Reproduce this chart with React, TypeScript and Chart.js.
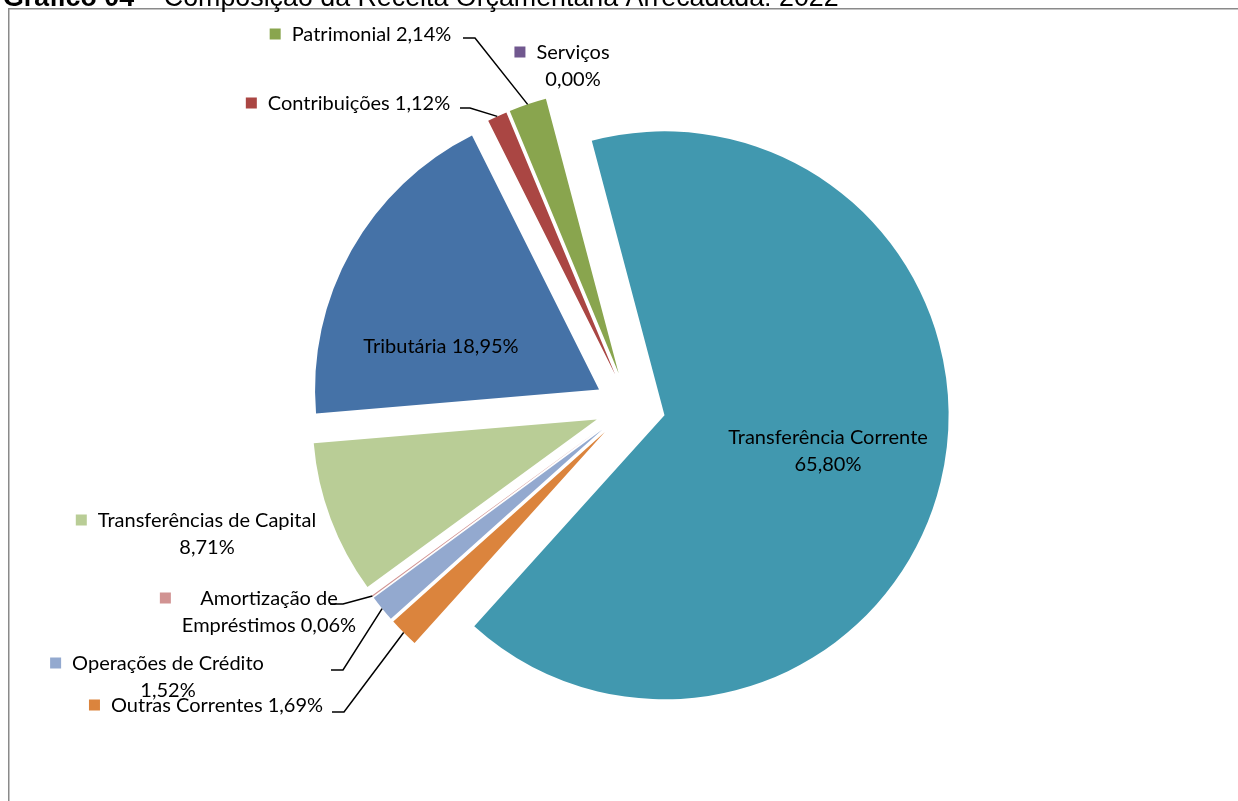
import React, { useEffect, useRef } from "react";
import { Chart, registerables } from "chart.js";

Chart.register(...registerables);

// ---- data ----
const categories = [
  "Tributária",
  "Contribuições",
  "Patrimonial",
  "Serviços",
  "Transferência Corrente",
  "Outras Correntes",
  "Operações de Crédito",
  "Amortização de Empréstimos",
  "Transferências de Capital",
];
const shares = [18.95, 1.12, 2.14, 0.0, 65.8, 1.69, 1.52, 0.06, 8.71];
const titleBold = "Gráfico 04";
const titleRest = " – Composição da Receita Orçamentária Arrecadada: 2022";

// ---- styles ----
const sliceColors = [
  "#4572A7",
  "#AA4643",
  "#89A54E",
  "#71588F",
  "#4198AF",
  "#DB843D",
  "#93A9CF",
  "#D19392",
  "#B9CD96",
];
const EXPLODE = 35.5;
const RADIUS = 284;
const ROTATION = 265.2;
const LABEL_FONT = '20px Lato, "Noto Sans", sans-serif';
const LINE_H = 26.5;
const KEY = 11;
const KEY_GAP = 11;

// label layout: centre x of text block, centre y of first line, words before line break (0 = none)
const labelLayout: any[] = [
  { cx: 441, cy: 347, key: false, brk: 0 },
  { cx: 359, cy: 104, key: true, brk: 0, leader: [[460, 108], [470, 108]] },
  { cx: 371.5, cy: 35, key: true, brk: 0, leader: [[463, 38], [475, 38]] },
  { cx: 573, cy: 53, key: true, brk: 1 },
  { cx: 828, cy: 438, key: false, brk: 2 },
  { cx: 217, cy: 706, key: true, brk: 0, leader: [[332, 712], [344, 712]] },
  { cx: 168, cy: 664, key: true, brk: 3, leader: [[331, 670], [343, 670]] },
  { cx: 269, cy: 599, key: true, brk: 2, leader: [[330, 604], [343, 604]] },
  { cx: 207, cy: 521, key: true, brk: 3 },
];

const fmtPct = (v: number) => v.toFixed(2).replace(".", ",") + "%";

function labelLines(i: number): string[] {
  const words = (categories[i] + " " + fmtPct(shares[i])).split(" ");
  const brk = labelLayout[i].brk;
  if (!brk) return [words.join(" ")];
  return [words.slice(0, brk).join(" "), words.slice(brk).join(" ")];
}

const decorPlugin = {
  id: "decor",
  beforeDraw(chart: any) {
    const ctx = chart.ctx as CanvasRenderingContext2D;
    ctx.save();
    ctx.fillStyle = "#fff";
    ctx.fillRect(0, 0, chart.width, chart.height);
    // frame
    ctx.strokeStyle = "#8a8a8a";
    ctx.lineWidth = 1.5;
    ctx.beginPath();
    ctx.moveTo(8.75, chart.height + 2);
    ctx.lineTo(8.75, 8.75);
    ctx.lineTo(chart.width + 2, 8.75);
    ctx.stroke();
    // title (cropped at the top, as in the source)
    ctx.fillStyle = "#000";
    ctx.textBaseline = "alphabetic";
    ctx.textAlign = "left";
    ctx.font = 'bold 26.8px "Liberation Sans", Arial, sans-serif';
    ctx.fillText(titleBold, 3, 5.5);
    const w = ctx.measureText(titleBold).width;
    ctx.font = '26.8px "Liberation Sans", Arial, sans-serif';
    ctx.fillText(titleRest, 3 + w, 5.5);
    ctx.restore();
  },
  beforeDatasetDraw(chart: any, args: any) {
    const ctx = chart.ctx as CanvasRenderingContext2D;
    args.meta.data.forEach((arc: any) => {
      const mid = (arc.startAngle + arc.endAngle) / 2;
      ctx.save();
      ctx.translate(Math.cos(mid) * EXPLODE, Math.sin(mid) * EXPLODE);
      arc.draw(ctx, chart.chartArea);
      ctx.restore();
    });
    return false;
  },
  afterDraw(chart: any) {
    const ctx = chart.ctx as CanvasRenderingContext2D;
    const arcs = chart.getDatasetMeta(0).data;
    ctx.save();
    ctx.font = LABEL_FONT;
    ctx.textAlign = "center";
    ctx.textBaseline = "middle";
    labelLayout.forEach((L, i) => {
      const lines = labelLines(i);
      // leader line
      if (L.leader) {
        const arc = arcs[i];
        const mid = (arc.startAngle + arc.endAngle) / 2;
        const r = arc.outerRadius + EXPLODE;
        const ex = arc.x + Math.cos(mid) * r;
        const ey = arc.y + Math.sin(mid) * r;
        ctx.strokeStyle = "#000";
        ctx.lineWidth = 1.5;
        ctx.beginPath();
        ctx.moveTo(L.leader[0][0], L.leader[0][1]);
        ctx.lineTo(L.leader[1][0], L.leader[1][1]);
        ctx.lineTo(ex, ey);
        ctx.stroke();
      }
      const widths = lines.map((t) => ctx.measureText(t).width);
      const maxW = Math.max(...widths);
      if (L.key) {
        const left = L.cx - maxW / 2;
        ctx.fillStyle = sliceColors[i];
        ctx.fillRect(left - KEY_GAP - KEY, L.cy - 1 - KEY / 2, KEY, KEY);
      }
      ctx.fillStyle = "#000";
      lines.forEach((t, j) => {
        ctx.fillText(t, L.cx, L.cy + j * LINE_H);
      });
    });
    ctx.restore();
  },
};

export default function App() {
  const ref = useRef<HTMLCanvasElement>(null);
  useEffect(() => {
    const canvas = ref.current!;
    const chart = new Chart(canvas, {
      type: "pie",
      data: {
        labels: categories,
        datasets: [
          {
            data: shares,
            backgroundColor: sliceColors,
            borderWidth: 0,
            radius: RADIUS,
            rotation: ROTATION,
          } as any,
        ],
      },
      options: {
        responsive: false,
        animation: false,
        devicePixelRatio: 1,
        events: [],
        layout: { padding: { left: 22, top: 13, right: 0, bottom: 0 } },
        plugins: {
          legend: { display: false },
          tooltip: { enabled: false },
          title: { display: false },
        },
      } as any,
      plugins: [decorPlugin as any],
    });
    return () => chart.destroy();
  }, []);
  return (
    <div style={{ position: "fixed", left: 0, top: 0, width: 1238, height: 801, background: "#fff" }}>
      <canvas ref={ref} width={1238} height={801} style={{ display: "block", width: 1238, height: 801 }} />
    </div>
  );
}
